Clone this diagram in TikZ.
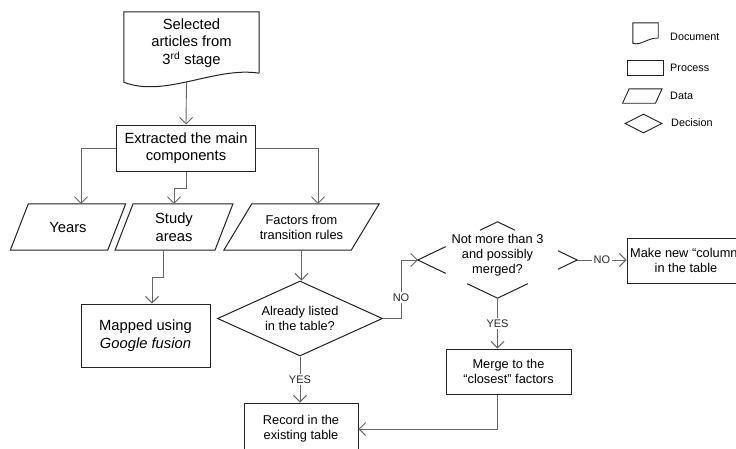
\documentclass[tikz,border=0pt]{standalone}
\usepackage{fontspec}
\setmainfont{Liberation Sans}
\usetikzlibrary{shapes.geometric,arrows.meta,calc}
\definecolor{conn}{HTML}{666666}
\definecolor{edge}{HTML}{222222}
\tikzset{
  big/.style={font=\fontsize{14.75}{17.5}\selectfont, align=center},
  mid/.style={font=\fontsize{12.8}{15}\selectfont, align=center},
  small/.style={font=\fontsize{10.8}{13}\selectfont, inner sep=0pt},
  lab/.style={font=\fontsize{11}{13}\selectfont, fill=white, inner sep=1.5pt, text=black!85},
  shp/.style={draw=edge, line width=1pt},
  proc/.style={shp, rectangle, inner sep=1pt},
  arr/.style={draw=conn, line width=0.9pt, -{Straight Barb[length=6.5pt,width=13pt]}},
  lgshp/.style={draw=edge, line width=0.9pt},
}
\newcommand\drawpara[3]{\draw[#3] ($(#1.north west)+(#2,0)$) -- ($(#1.north east)+(#2,0)$) -- ($(#1.south east)+(-#2,0)$) -- ($(#1.south west)+(-#2,0)$) -- cycle;}

\begin{document}
\begin{tikzpicture}[x=1pt,y=-1pt]
\useasboundingbox (0,0) rectangle (736,448);
\clip (0,0) rectangle (736,448);
\fill[white] (0,0) rectangle (736,448);

% document
\node[big, minimum width=135, minimum height=62, inner sep=0] (doc) at (191.5,43) {Selected\\articles from\\3\textsuperscript{rd} stage};
\draw[shp] ($(doc.south east)+(0,-1)$) -- (doc.north east) -- (doc.north west) -- ($(doc.south west)+(0,8)$)
  .. controls ($(doc.south west)+(41,24)$) and ($(doc.south east)+(-44,-8)$) .. ($(doc.south east)+(0,-1)$);

% process
\node[proc, big, minimum width=139, minimum height=46] (ext) at (186,148) {Extracted the main\\components};

% data
\node[big, minimum width=97, minimum height=46, inner sep=0] (years) at (68,227) {Years};
\drawpara{years}{9}{shp}
\node[big, minimum width=99.5, minimum height=46, inner sep=0] (study) at (174,227) {Study\\areas};
\drawpara{study}{9}{shp}
\node[mid, minimum width=127, minimum height=46, inner sep=0] (fac) at (301.5,227) {Factors from\\transition rules};
\drawpara{fac}{14}{shp}

\node[proc, big, minimum width=129, minimum height=63] (map) at (145.5,335.5) {Mapped using\\\textit{Google fusion}};

% decisions
\node[diamond, shp, mid, aspect=2.2, minimum width=165, minimum height=75, inner sep=0] (d1) at (300,318.5) {Already listed\\in the table?};
\node[diamond, aspect=2.1, minimum width=159, minimum height=76, inner sep=0] (d2) at (497.5,260) {};
\node[mid] (d2t) at (497.5,255) {Not more than 3\\and possibly\\merged?};
\draw[shp] ($(d2.west)!0.35!(d2.north)$) -- (d2.west) -- ($(d2.west)!0.35!(d2.south)$);
\draw[shp] ($(d2.north)!0.22!(d2.west)$) -- (d2.north) -- ($(d2.north)!0.22!(d2.east)$);
\draw[shp] ($(d2.east)!0.24!(d2.north)$) -- (d2.east) -- ($(d2.east)!0.24!(d2.south)$);
\draw[shp] ($(d2.south)!0.38!(d2.west)$) -- (d2.south) -- ($(d2.south)!0.38!(d2.east)$);

\node[proc, mid, minimum width=118, minimum height=45] (mk) at (686,260.5) {Make new “column”\\in the table};
\node[proc, mid, minimum width=125, minimum height=45] (mg) at (508.5,371.5) {Merge to the\\“closest” factors};
\node[proc, mid, minimum width=114, minimum height=52] (rec) at (301,429) {Record in the\\existing table};

% connectors
\draw[arr] ($(doc.south)+(-5,7)$) -- (ext.north);
\draw[arr] (ext.west) -| ([xshift=13pt]years.north);
\draw[arr] (ext.east) -| ([xshift=16.5pt]fac.north);
\draw[arr] (ext.south) -- ++(0,17) -| (study.north);
\draw[arr] ([xshift=-11pt]study.south) -- ++(0,27) -| ([xshift=6.5pt]map.north);
\draw[arr] (fac.south) -- (fac.south |- d1.north);
\draw[arr] (d1.south) -- (d1.south |- rec.north) node[lab, midway] (yes1) {YES};
\draw[arr] (d1.east) -- ++(18,0) |- node[lab, pos=0.18] (no1) {NO} (d2.west);
\draw[arr] (d2.east) -- (d2.east -| mk.west) node[lab, midway] (no2) {NO};
\draw[arr] (d2.south) -- (d2.south |- mg.north) node[lab, midway] (yes2) {YES};
\draw[arr] (d2.south |- mg.south) |- (rec.east);

% legend
\node[minimum width=25, minimum height=17, inner sep=0] (lgdoc) at (645.5,31.5) {};
\draw[lgshp] ($(lgdoc.south east)+(0,-2)$) -- (lgdoc.north east) -- (lgdoc.north west) -- ($(lgdoc.south west)+(0,3)$)
  .. controls ($(lgdoc.south west)+(8,6)$) and ($(lgdoc.south east)+(-10,-3)$) .. ($(lgdoc.south east)+(0,-2)$);
\node[small, anchor=west] (tdoc) at (670,37) {Document};
\node[lgshp, minimum width=36, minimum height=15, inner sep=0] (lgproc) at (645,67.5) {};
\node[small, anchor=west] (tproc) at (670,68) {Process};
\node[minimum width=32.5, minimum height=14, inner sep=0] (lgdata) at (642.3,96) {};
\drawpara{lgdata}{3.3}{lgshp}
\node[small, anchor=west] (tdata) at (670,96) {Data};
\node[diamond, lgshp, aspect=2, minimum width=37, minimum height=19, inner sep=0] (lgdec) at (643.5,123.5) {};
\node[small, anchor=west] (tdec) at (671,123) {Decision};
\end{tikzpicture}
\end{document}
